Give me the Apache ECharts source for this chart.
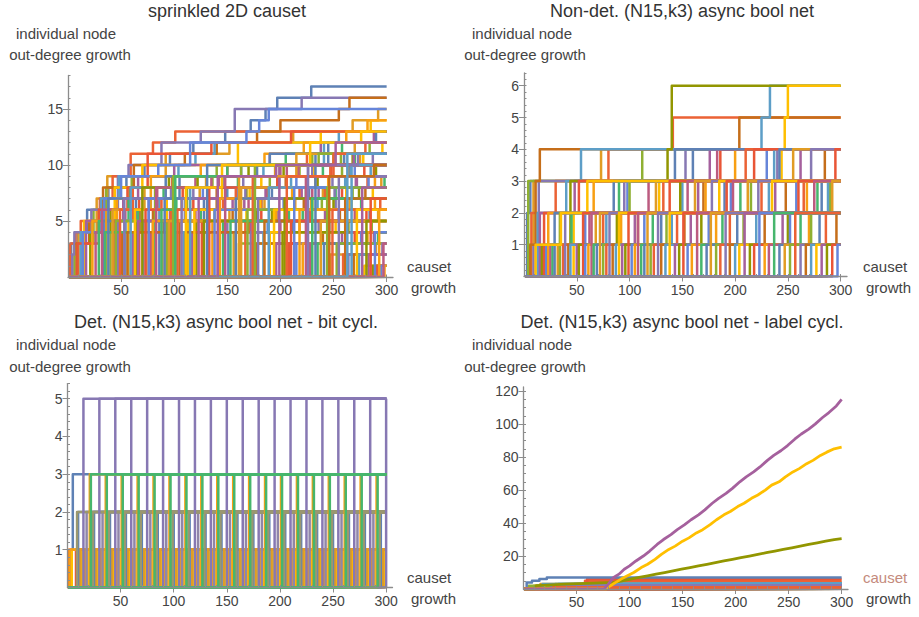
<!DOCTYPE html>
<html><head><meta charset="utf-8">
<script src="https://cdn.jsdelivr.net/npm/echarts/dist/echarts.min.js"></script>
<style>html,body{margin:0;padding:0;background:#fff}#c{width:919px;height:617px}</style>
</head><body><div id="c"></div>
<script>
// ---------------- texts ----------------
const titles = ['sprinkled 2D causet', 'Non-det. (N15,k3) async bool net',
  'Det. (N15,k3) async bool net - bit cycl.', 'Det. (N15,k3) async bool net - label cycl.'];
const yNameLines = ['individual node', 'out-degree growth'];
const xNameLines = ['causet', 'growth'];
const xTickLabels = [50, 100, 150, 200, 250, 300];
const yTickLabels = [[5, 10, 15], [1, 2, 3, 4, 5, 6], [1, 2, 3, 4, 5], [20, 40, 60, 80, 100, 120]];

// ---------------- data: each node = flat list x0,y0,x1,y1,... (value holds until next x) ----------------
const causetNodes = [
 [2,0, 3,3, 9,4, 18,6, 38,8, 55,9, 72,10, 96,11, 118,12, 148,13, 172,14, 186,15, 197,16, 229,17],
 [9,0, 10,4, 27,7, 37,9, 92,11, 152,12, 212,13, 268,14, 292,15],
 [5,0, 6,3, 24,6, 36,8, 60,9, 140,10, 230,11],
 [1,0, 2,3, 7,4, 12,5, 30,7, 42,9, 59,11, 80,12, 101,13],
 [3,0, 4,2, 6,4, 22,6, 47,9, 57,10, 88,12, 125,13, 157,15, 220,16],
 [7,0, 8,3, 20,5, 33,8, 62,10, 110,11, 140,12, 178,13, 200,14, 255,15, 265,16],
 [11,0, 12,4, 31,7, 48,9, 104,10, 120,11, 138,12, 255,13],
 [14,0, 15,5, 44,8, 70,10, 160,12, 238,13, 285,14],
 [16,0, 17,5, 52,7, 66,9, 100,10, 190,11, 238,12, 288,13],
 [20,0, 21,4, 40,6, 58,8, 95,9, 170,10, 250,11],
 [8,0, 9,3, 29,6, 56,8, 75,11, 135,12, 210,13],
 [13,0, 14,4, 34,7, 50,9, 85,10, 115,12, 168,13, 180,14, 189,15],
 [22,0, 23,5, 46,7, 78,9, 125,10, 185,11, 222,12, 262,13, 282,14],
 [25,0, 26,4, 54,6, 83,8, 120,9, 200,10],
 [28,0, 29,5, 57,7, 90,8, 160,9, 240,10, 270,11],
 [32,0, 33,5, 64,7, 105,9, 178,10, 260,11],
 [35,0, 36,6, 72,8, 130,9, 195,10, 275,11],
 [39,0, 40,4, 68,6, 112,8, 190,9, 258,10],
 [42,0, 43,5, 61,8, 98,9, 150,10, 225,11],
 [46,0, 47,5, 76,7, 118,8, 165,9, 230,10],
 [50,0, 51,4, 80,6, 140,8, 205,9, 265,10],
 [53,0, 54,5, 86,7, 150,8, 210,9, 285,10],
 [56,0, 57,5, 93,7, 145,8, 182,9, 232,10, 278,11, 296,12],
 [60,0, 61,4, 96,6, 155,7, 220,8, 272,9],
 [63,0, 64,5, 100,7, 168,8, 235,9, 290,10],
 [66,0, 67,7, 108,8, 175,9, 248,10],
 [70,0, 71,5, 110,7, 160,8, 215,9, 270,10],
 [73,0, 74,5, 115,7, 188,8, 245,9],
 [77,0, 78,4, 120,6, 170,7, 230,8],
 [80,0, 81,5, 125,6, 182,7, 252,8, 298,9],
 [85,0, 86,5, 128,7, 192,8, 262,9],
 [88,0, 89,4, 132,6, 185,7, 240,8, 295,9],
 [92,0, 93,5, 138,6, 205,7, 268,8],
 [96,0, 97,6, 146,7, 218,8, 282,9],
 [100,0, 101,4, 150,5, 198,6, 252,7],
 [104,0, 105,5, 155,6, 222,7, 280,8],
 [108,0, 109,4, 162,6, 235,7],
 [112,0, 113,5, 168,6, 230,7, 287,8],
 [116,0, 117,4, 172,5, 242,6],
 [120,0, 121,5, 178,6, 250,7],
 [125,0, 126,5, 182,7, 258,8],
 [130,0, 131,4, 188,5, 255,6],
 [135,0, 136,5, 196,6, 265,7],
 [140,0, 141,4, 200,5, 270,6],
 [145,0, 146,5, 208,6, 276,7],
 [150,0, 151,4, 212,5, 284,6],
 [155,0, 156,4, 218,5, 292,6],
 [160,0, 161,3, 225,4, 286,5],
 [166,0, 167,5, 228,6, 294,7],
 [171,0, 172,4, 236,5],
 [177,0, 178,3, 240,4],
 [183,0, 184,4, 246,5],
 [189,0, 190,4, 252,5],
 [195,0, 196,3, 258,4],
 [201,0, 202,4, 264,5],
 [207,0, 208,3, 270,4],
 [214,0, 215,3, 276,4],
 [220,0, 221,3, 282,4],
 [227,0, 228,3, 288,4],
 [234,0, 235,3, 292,4],
 [240,0, 241,3],
 [246,0, 247,2, 290,3],
 [252,0, 253,3],
 [258,0, 259,2],
 [263,0, 264,2, 296,3],
 [268,0, 269,2],
 [273,0, 274,2],
 [278,0, 279,1],
 [282,0, 283,2],
 [286,0, 287,1],
 [290,0, 291,1],
 [294,0, 295,1],
 [297,0, 298,1],
 [31,0, 32,6, 84,8, 142,9, 206,10],
 [34,0, 35,4, 66,6, 102,7, 174,8],
 [37,0, 38,7, 92,9, 163,10, 245,11],
 [41,0, 42,6, 78,7, 124,8, 198,9],
 [44,0, 45,5, 82,8, 136,9, 218,10],
 [48,0, 49,6, 88,7, 158,8],
 [52,0, 53,7, 97,8, 147,9, 226,10, 287,11],
 [55,0, 56,4, 90,5, 133,6],
 [58,0, 59,8, 99,9, 184,10, 241,12],
 [62,0, 63,6, 107,7, 171,8],
 [65,0, 66,5, 111,6, 166,7, 236,8],
 [69,0, 70,8, 122,9, 203,10, 268,11],
 [72,0, 73,6, 118,7, 187,8],
 [75,0, 76,7, 127,8, 199,9],
 [79,0, 80,5, 131,6, 214,7],
 [82,0, 83,8, 135,9, 217,10],
 [87,0, 88,6, 141,7, 224,8],
 [90,0, 91,7, 149,8, 233,9],
 [94,0, 95,5, 152,6, 229,7],
 [98,0, 99,9, 163,10, 257,11],
 [102,0, 103,6, 158,7, 242,8],
 [106,0, 107,7, 167,8, 249,9],
 [110,0, 111,4, 170,5],
 [114,0, 115,8, 176,9, 266,10],
 [118,0, 119,6, 181,7, 262,8],
 [122,0, 123,7, 186,8, 271,9],
 [127,0, 128,5, 192,6],
 [132,0, 133,8, 197,9, 279,10],
 [137,0, 138,6, 203,7],
 [142,0, 143,7, 211,8, 289,9],
 [147,0, 148,9, 216,10],
 [152,0, 153,5, 221,6],
 [157,0, 158,7, 227,8],
 [162,0, 163,8, 233,9],
 [168,0, 169,6, 239,7],
 [173,0, 174,9, 247,10],
 [178,0, 179,7, 251,8],
 [184,0, 185,5, 256,6],
 [188,0, 189,8, 261,9],
 [193,0, 194,6, 267,7],
 [198,0, 199,10, 269,11],
 [203,0, 204,7, 274,8],
 [209,0, 210,5, 281,6],
 [212,0, 213,8, 283,9],
 [217,0, 218,6, 289,7],
 [223,0, 224,9],
 [229,0, 230,7],
 [232,0, 233,11],
 [237,0, 238,5],
 [243,0, 244,8],
 [248,0, 249,6],
 [254,0, 255,9],
 [260,0, 261,7],
 [266,0, 267,10],
 [271,0, 272,6],
 [276,0, 277,8],
 [280,0, 281,5],
 [284,0, 285,7],
 [288,0, 289,4],
 [292,0, 293,6],
 [296,0, 297,3],
 [100,0, 101,9, 150,10, 205,11, 258,12],
 [130,0, 131,10, 190,11, 245,12, 290,13],
 [160,0, 161,9, 215,11, 270,12],
 [175,0, 176,10, 236,11, 284,12],
 [205,0, 206,9, 250,11, 280,12],
 [225,0, 226,10, 273,11],
 [245,0, 246,9, 288,10],
 [262,0, 263,11],
 [110,0, 111,8, 145,10, 228,12, 276,13],
 [140,0, 141,9, 196,10, 252,12]
];

const nonDetNodes = [
 [2,0, 3,2, 6,3, 160,4],
 [4,0, 5,1, 9,3, 73,4],
 [3,0, 4,3, 112,4],
 [6,0, 7,2, 30,3, 80,4, 141,5],
 [8,0, 9,1, 14,3, 153,4],
 [5,0, 6,1, 11,3, 15,4, 204,5],
 [12,0, 13,2, 40,3, 54,4, 225,5, 233,6],
 [46,0, 47,2, 128,3],
 [14,0, 15,2, 48,3, 176,4],
 [16,0, 17,1, 44,3, 136,4, 140,6],
 [18,0, 19,2, 52,3, 186,4],
 [20,0, 21,1, 58,2, 98,3, 230,4],
 [22,0, 23,2, 66,3, 200,4],
 [24,0, 25,1, 62,2, 118,3, 183,4],
 [26,0, 27,1, 45,2, 90,3],
 [28,0, 29,2, 85,3, 143,4],
 [31,0, 32,1, 68,2, 125,3],
 [33,0, 34,2, 100,3],
 [36,0, 37,1, 75,2, 132,3, 210,4],
 [38,0, 39,2, 95,3, 240,4],
 [41,0, 42,1, 108,2, 170,3, 285,4],
 [43,0, 44,1, 78,2, 150,3, 237,4],
 [10,0, 11,1, 35,2, 60,3, 244,4, 247,5, 250,6],
 [49,0, 50,1, 105,2, 165,3, 262,4],
 [51,0, 52,1, 88,2, 148,3],
 [55,0, 56,2, 138,3, 218,4],
 [57,0, 58,1, 114,2, 196,3],
 [60,0, 61,1, 92,2, 172,3],
 [63,0, 64,2, 155,3],
 [65,0, 66,1, 122,2, 205,3],
 [68,0, 69,1, 130,2, 190,3, 242,4],
 [71,0, 72,2, 162,3, 255,4],
 [74,0, 75,1, 135,2, 215,3],
 [77,0, 78,1, 145,2, 225,3],
 [80,0, 81,2, 178,3, 272,4],
 [83,0, 84,1, 152,2, 248,3],
 [86,0, 87,1, 140,2, 232,3],
 [89,0, 90,2, 185,3],
 [92,0, 93,1, 158,2, 238,3],
 [95,0, 96,1, 168,2],
 [98,0, 99,2, 192,3, 295,4],
 [101,0, 102,1, 175,2, 258,3],
 [104,0, 105,1, 182,2, 268,3],
 [107,0, 108,2, 198,3],
 [110,0, 111,1, 188,2, 278,3],
 [113,0, 114,1, 202,2, 282,3],
 [116,0, 117,2, 212,3],
 [119,0, 120,1, 208,2, 290,3],
 [122,0, 123,1, 195,2, 265,3],
 [126,0, 127,2, 222,3],
 [129,0, 130,1, 228,2],
 [133,0, 134,1, 220,2, 288,3],
 [137,0, 138,2, 235,3],
 [142,0, 143,1, 245,2],
 [146,0, 147,1, 250,2],
 [150,0, 151,2, 260,3],
 [154,0, 155,1, 252,2],
 [158,0, 159,1, 270,2],
 [163,0, 164,2, 275,3],
 [167,0, 168,1, 262,2],
 [172,0, 173,1, 280,2],
 [176,0, 177,2, 292,3],
 [181,0, 182,1, 272,2],
 [185,0, 186,1, 286,2],
 [190,0, 191,2],
 [194,0, 195,1, 296,2],
 [199,0, 200,1],
 [203,0, 204,1],
 [208,0, 209,2],
 [213,0, 214,1],
 [217,0, 218,1],
 [222,0, 223,2],
 [227,0, 228,1],
 [231,0, 232,1],
 [236,0, 237,2],
 [241,0, 242,1],
 [246,0, 247,1],
 [251,0, 252,1],
 [256,0, 257,2],
 [261,0, 262,1],
 [266,0, 267,1],
 [271,0, 272,1],
 [276,0, 277,1],
 [281,0, 282,1],
 [286,0, 287,1],
 [291,0, 292,1],
 [296,0, 297,1]
];

// bit-cycling panel: rise times of nodes, grouped by final level
const bitFirstNode = [2,0, 3,1, 5,3];
const bitCyan1    = [13,28,43,58,73,88,103,118,133,148,163,178,193,208,223,238,253,268,283,298];
const bitRed1     = [1,16,31,46,61,76,91,106,121,136,151,166,181,196,211,226,241,256,271,286];
const bitYellow1  = [4,19,34,49,64,79,94,109,124,139,154,169,184,199,214,229,244,259,274,289];
const bitRed1b    = [8,23,38,53,68,83,98,113,128,143,158,173,188,203,218,233,248,263,278,293];
const bitOrange1b = [2,17,32,47,62,77,92,107,122,137,152,167,182,197,212,227,242,257,272,287];
const bitYellow1b = [14,29,44,59,74,89,104,119,134,149,164,179,194,209,224,239,254,269,284,299];
const bitOrange1  = [12,27,42,57,72,87,102,117,132,147,162,177,192,207,222,237,252,267,282,297];
const bitBlue2    = [10,25,40,55,70,85,100,115,130,145,160,175,190,205,220,235,250,265,280,295];
const bitPurple2  = [18,33,48,63,78,93,108,123,138,153,168,183,198,213,228,243,258,273,288];
const bitOlive2   = [9,24,39,54,69,84,99,114,129,144,159,174,189,204,219,234,249,264,279,294];
const bitPurple5  = [15,30,45,60,75,90,105,120,135,150,165,180,195,210,225,240,255,270,285,300];
const bitOrange3  = [21,36,51,66,81,96,111,126,141,156,171,186,201,216,231,246,261,276,291];
const bitGreen3   = [22,37,52,67,82,97,112,127,142,157,172,187,202,217,232,247,262,277,292];

// label-cycling panel
const labelMagenta = [76,0, 80,3, 85,7, 90,9, 95,12, 100,14, 106,17, 113,20, 119,23, 126,27, 132,30, 139,33, 145,36,
  152,39, 158,42, 165,45, 171,48, 178,52, 184,55, 191,58, 197,61, 204,65, 210,68, 217,71, 223,74, 230,78, 236,81,
  243,84, 249,87, 256,91, 262,94, 269,97, 275,100, 282,104, 288,107, 295,111, 300,115];
const labelYellow = [78,0, 82,2, 87,4, 92,6, 98,8, 104,10, 111,13, 117,15, 124,18, 130,21, 137,24, 143,26, 150,29,
  156,31, 163,34, 169,36, 176,39, 182,42, 189,45, 195,47, 202,50, 208,52, 215,55, 221,57, 228,60, 234,63, 241,65,
  247,68, 254,71, 260,73, 267,76, 273,78, 280,81, 286,83, 293,85, 300,86];
const labelOlive = [10,0, 12,2, 40,3, 85,4, 93,5, 101,6, 109,7, 117,8, 125,9, 133,10, 141,11, 149,12, 157,13, 165,14,
  173,15, 181,16, 189,17, 197,18, 205,19, 213,20, 221,21, 229,22, 237,23, 245,24, 253,25, 261,26, 269,27, 277,28,
  285,29, 293,30, 300,30.5];
const labelLowNodes = [
 [8,0, 10,2, 16,3, 62,4],
 [3,0, 5,2, 30,3],
 [12,0, 14,1, 40,2],
 [50,0, 58,5],
 [55,0, 60,6],
 [1,0, 3,4, 8,5, 15,6, 22,7]
];
const labelCyan3   = [18,33,48,63,78,93,108,123,138,153,168,183,198,213,228,243,258,273,288];
const labelYellow1 = [20,35,50,65,80,95,110,125,140,155,170,185,200,215,230,245,260,275,290];
const labelGreen2  = [22,37,52,67,82,97,112,127,142,157,172,187,202,217,232,247,262,277,292];
const labelPurple2 = [26,41,56,71,86,101,116,131,146,161,176,191,206,221,236,251,266,281,296];
const labelRed1    = [28,43,58,73,88,103,118,133,148,163,178,193,208,223,238,253,268,283,298];

// ---------------- styling / layout ----------------
const PALETTE = ['#5E81B5','#E19C24','#8FB032','#EB6235','#8778B3','#C56E1A','#5D9EC7','#FFBF00',
                 '#A5609D','#929600','#E95536','#6685D9','#F89F13','#BC5B80','#47B66D'];
const AX = '#8c8c8c', LBL = '#444444', TTL = '#333333';
const FONT = '"Liberation Sans", Arial, sans-serif';
const LW = 2.5;
const grids = [
  {left: 68,    top: 75.4,  width: 325,   height: 201.6},
  {left: 524,   top: 73,    width: 323,   height: 203.5},
  {left: 67.5,  top: 383.6, width: 325,   height: 203.9},
  {left: 523.5, top: 387,   width: 324.5, height: 202}
];
const xMax = 306;
const yMax = [18, 6.4, 5.4, 122.5];
const yMinor = [1, 0.2, 0.2, 5];

function ticks(step, max) { const r = []; for (let k = 1; k * step <= max + 1e-9; k++) r.push(Math.round(k * step * 1000) / 1000); return r; }
function stepPoints(flat) {
  const pts = [];
  if (flat[0] > 1) pts.push([1, 0]);
  for (let i = 0; i < flat.length; i += 2) pts.push([flat[i], flat[i + 1]]);
  const last = pts[pts.length - 1];
  if (last[0] < 300) pts.push([300, last[1]]);
  return pts;
}
const series = [];
function addLine(g, flat, color, width, z, step) {
  series.push({type: 'line', xAxisIndex: g, yAxisIndex: g, step: step === false ? false : 'end', showSymbol: false, symbol: 'none',
    silent: true, animation: false, z: z || 2, lineStyle: {width: width, color: color, join: 'round'}, data: stepPoints(flat)});
}
function addRises(g, times, level, color, width) {
  times.forEach(t => addLine(g, [t - 1, 0, t, level], color, width));
}

causetNodes.forEach((n, i) => addLine(0, n, PALETTE[i % 15], LW));
nonDetNodes.forEach((n, i) => addLine(1, n, PALETTE[i % 15], LW));

addLine(2, bitFirstNode, PALETTE[0], LW);
addRises(2, bitCyan1, 1, PALETTE[6], LW);
addRises(2, bitRed1, 1, PALETTE[3], LW);
addRises(2, bitYellow1, 1, PALETTE[7], LW);
addRises(2, bitRed1b, 1, PALETTE[10], LW);
addRises(2, bitOrange1b, 1, PALETTE[12], LW);
addRises(2, bitYellow1b, 1, PALETTE[7], LW);
addRises(2, bitOrange1, 1, PALETTE[1], LW);
addRises(2, bitBlue2, 2, PALETTE[0], LW);
addRises(2, bitPurple2, 2, '#8f86a8', LW);
addRises(2, bitOlive2, 2, '#9a9870', LW);
addRises(2, bitPurple5, 5, PALETTE[4], LW);
addRises(2, bitOrange3, 3, PALETTE[12], LW);
addRises(2, bitGreen3, 3, PALETTE[14], LW);

labelLowNodes.forEach((n, i) => addLine(3, n, [PALETTE[1], PALETTE[2], PALETTE[4], PALETTE[3], PALETTE[10], PALETTE[0]][i], LW));
addRises(3, labelCyan3, 3, PALETTE[6], LW);
addRises(3, labelYellow1, 1, PALETTE[7], LW);
addRises(3, labelGreen2, 2, PALETTE[2], LW);
addRises(3, labelPurple2, 2, PALETTE[4], LW);
addRises(3, labelRed1, 1, PALETTE[3], LW);
addLine(3, labelOlive, PALETTE[9], 2.8, 5, false);
addLine(3, labelYellow, PALETTE[7], 2.8, 5, false);
addLine(3, labelMagenta, PALETTE[8], 2.8, 5, false);

const xAxes = [], yAxes = [];
grids.forEach((g, i) => {
  xAxes.push({gridIndex: i, type: 'value', min: 0, max: xMax, interval: 50,
    axisLine: {show: true, onZero: false, lineStyle: {color: AX, width: 1.3}},
    axisTick: {show: true, inside: true, length: 2.5, customValues: ticks(10, 300), lineStyle: {color: AX, width: 1}},
    axisLabel: {show: true, customValues: xTickLabels, color: LBL, fontSize: 14, fontFamily: FONT, margin: 6},
    splitLine: {show: false}, z: 10});
  yAxes.push({gridIndex: i, type: 'value', min: 0, max: yMax[i], interval: yMinor[i],
    axisLine: {show: true, onZero: false, lineStyle: {color: AX, width: 1.3}},
    axisTick: {show: true, inside: true, length: 2.5, customValues: ticks(yMinor[i], yMax[i]), lineStyle: {color: AX, width: 1}},
    axisLabel: {show: true, customValues: yTickLabels[i], color: LBL, fontSize: 14, fontFamily: FONT, margin: 5},
    splitLine: {show: false}, z: 10});
});
grids.forEach((g, i) => {
  xAxes.push({gridIndex: i, type: 'value', min: 0, max: xMax, interval: 50,
    axisLine: {show: false}, axisLabel: {show: false}, splitLine: {show: false},
    axisTick: {show: true, inside: true, length: 5, customValues: xTickLabels, lineStyle: {color: AX, width: 1}}});
  yAxes.push({gridIndex: i, type: 'value', min: 0, max: yMax[i], interval: yMinor[i],
    axisLine: {show: false}, axisLabel: {show: false}, splitLine: {show: false},
    axisTick: {show: true, inside: true, length: 5, customValues: yTickLabels[i], lineStyle: {color: AX, width: 1}}});
});

// text placement
const titlePos = [[227, 11], [682, 11], [226, 322], [682, 322]];
const yNamePos = [[[66, 33], [70, 54]], [[522, 33], [525, 54]], [[66, 344], [70, 366]], [[522, 344], [525, 366]]];
const xNamePos = [[[407, 266], [411, 287]], [[863, 266], [866, 287]], [[407, 577], [411, 598]], [[863, 577], [866, 598]]];
const graphic = [];
titles.forEach((t, i) => graphic.push({type: 'text', x: titlePos[i][0], y: titlePos[i][1], silent: true,
  style: {text: t, fill: TTL, fontSize: 18, fontFamily: FONT, align: 'center', verticalAlign: 'middle'}}));
yNamePos.forEach(p => yNameLines.forEach((t, k) => graphic.push({type: 'text', x: p[k][0], y: p[k][1], silent: true,
  style: {text: t, fill: LBL, fontSize: 15, fontFamily: FONT, align: 'center', verticalAlign: 'middle'}})));
xNamePos.forEach((p, i) => xNameLines.forEach((t, k) => graphic.push({type: 'text', x: p[k][0], y: p[k][1], silent: true,
  style: {text: t, fill: (i === 3 && k === 0) ? '#c48a7c' : LBL, fontSize: 15, fontFamily: FONT, align: 'left', verticalAlign: 'middle'}})));

const chart = echarts.init(document.getElementById('c'), null, {renderer: 'svg', width: 919, height: 617});
chart.setOption({
  animation: false,
  backgroundColor: '#ffffff',
  grid: grids,
  xAxis: xAxes,
  yAxis: yAxes,
  series: series,
  graphic: graphic
});
</script></body></html>
